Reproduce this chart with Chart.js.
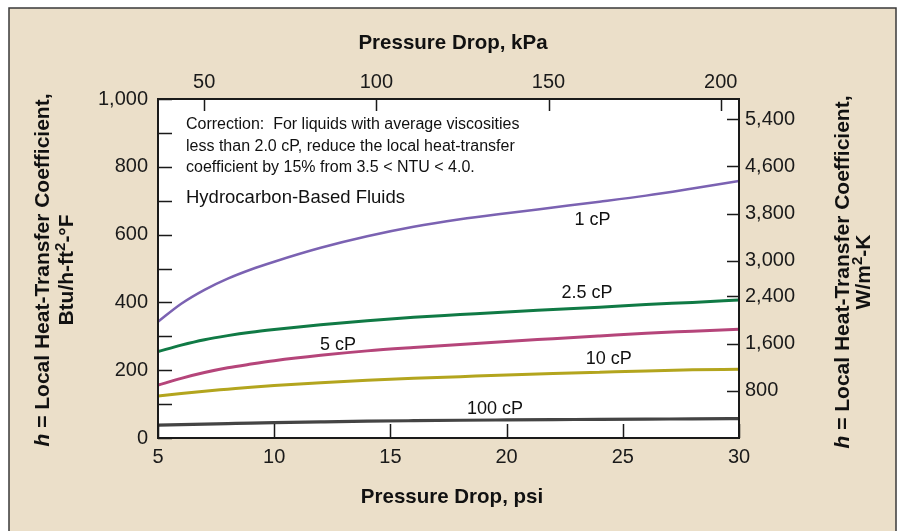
<!DOCTYPE html>
<html>
<head>
<meta charset="utf-8">
<script src="https://cdn.jsdelivr.net/npm/chart.js@4.4.1/dist/chart.umd.min.js"></script>
<style>
html, body { margin: 0; padding: 0; background: #fff; }
</style>
</head>
<body>
<canvas id="myChart" width="899" height="531"></canvas>
<script>
// pressure drop, psi
var psi = [5, 6, 7, 8, 9, 10, 12, 14, 16, 18, 20, 22, 24, 26, 28, 30];
// h, Btu/h-ft2-F
var cp1 = [343, 396, 437, 470, 497, 520, 561, 595, 623, 645, 663, 680, 697, 715, 736, 758];
var cp25 = [255, 274, 290, 302, 312, 320, 334, 346, 356, 364, 372, 379, 386, 394, 400, 407];
var cp5 = [156, 176, 193, 207, 218, 228, 244, 257, 267, 276, 285, 293, 301, 309, 315, 321];
var cp10 = [124, 131, 138, 144, 150, 155, 163, 170, 176, 181, 186, 190, 194, 198, 201, 203];
var cp100 = [38, 39.5, 41, 42.5, 44, 45.3, 47.5, 49.5, 51, 52.3, 53.3, 54.2, 55, 55.7, 56.3, 57];

var bottomTicks = [5, 10, 15, 20, 25, 30];
var topTicks = [50, 100, 150, 200];
var leftTicks = [0, 100, 200, 300, 400, 500, 600, 700, 800, 900, 1000];
var rightTicks = [800, 1600, 2400, 3000, 3800, 4600, 5400];

// curve names and where they are written (psi, Btu)
var curveLabels = [
    ['1 cP', 23.7, 644],
    ['2.5 cP', 23.46, 428],
    ['5 cP', 12.75, 275],
    ['10 cP', 24.4, 233],
    ['100 cP', 19.5, 86]
];

var FONT = '"Liberation Sans", Arial, Helvetica, sans-serif';
Chart.defaults.font.family = FONT;
Chart.defaults.color = '#1a1a1a';

function pts(ys) {
    return psi.map(function (x, i) { return {x: x, y: ys[i]}; });
}

function ds(ys, color, w) {
    return {
        data: pts(ys),
        borderColor: color,
        borderWidth: w,
        pointRadius: 0,
        fill: false,
        cubicInterpolationMode: 'monotone',
        xAxisID: 'x',
        yAxisID: 'y'
    };
}

function setTicks(list) {
    return function (s) {
        s.ticks = list.map(function (v) { return {value: v}; });
    };
}

function drawRich(ctx, parts, cx, cy) {
    // parts: [text, font, raise]
    var total = 0;
    parts.forEach(function (p) { ctx.font = p[1]; total += ctx.measureText(p[0]).width; });
    var x = cx - total / 2;
    parts.forEach(function (p) {
        ctx.font = p[1];
        ctx.fillText(p[0], x, cy - (p[2] || 0));
        x += ctx.measureText(p[0]).width;
    });
}

var framePlugin = {
    id: 'frame',
    beforeDraw: function (chart) {
        var ctx = chart.ctx, a = chart.chartArea;
        ctx.save();
        ctx.fillStyle = '#ffffff';
        ctx.fillRect(0, 0, chart.width, chart.height);
        ctx.fillStyle = '#ebdfc9';
        ctx.fillRect(9, 8, 887, 540);
        ctx.strokeStyle = '#3a3a3a';
        ctx.lineWidth = 1.5;
        ctx.strokeRect(9, 8, 887, 540);
        ctx.fillStyle = '#ffffff';
        ctx.fillRect(a.left, a.top, a.right - a.left, a.bottom - a.top);
        ctx.restore();
    },
    afterDatasetsDraw: function (chart) {
        var ctx = chart.ctx, a = chart.chartArea, sc = chart.scales;
        ctx.save();
        ctx.strokeStyle = '#1a1a1a';
        ctx.lineWidth = 1.5;
        ctx.beginPath();
        leftTicks.forEach(function (v) {
            var y = Math.round(sc.y.getPixelForValue(v)) + 0.5;
            ctx.moveTo(a.left, y); ctx.lineTo(a.left + 14, y);
        });
        rightTicks.forEach(function (v) {
            var y = Math.round(sc.y2.getPixelForValue(v)) + 0.5;
            ctx.moveTo(a.right - 12, y); ctx.lineTo(a.right, y);
        });
        topTicks.forEach(function (v) {
            var x = Math.round(sc.x2.getPixelForValue(v)) + 0.5;
            ctx.moveTo(x, a.top); ctx.lineTo(x, a.top + 12);
        });
        bottomTicks.forEach(function (v) {
            var x = Math.round(sc.x.getPixelForValue(v)) + 0.5;
            ctx.moveTo(x, a.bottom - 14); ctx.lineTo(x, a.bottom);
        });
        ctx.stroke();
        ctx.lineWidth = 2;
        ctx.strokeRect(a.left, a.top, a.right - a.left, a.bottom - a.top);

        // curve labels
        ctx.fillStyle = '#111';
        ctx.textAlign = 'center';
        ctx.textBaseline = 'middle';
        ctx.font = '18px ' + FONT;
        curveLabels.forEach(function (l) {
            ctx.fillText(l[0], sc.x.getPixelForValue(l[1]), sc.y.getPixelForValue(l[2]));
        });

        // notes
        ctx.textAlign = 'left';
        ctx.font = '16px ' + FONT;
        ctx.fillText('Correction:  For liquids with average viscosities', 186, 125);
        ctx.fillText('less than 2.0 cP, reduce the local heat-transfer', 186, 147);
        ctx.fillText('coefficient by 15% from 3.5 < NTU < 4.0.', 186, 168);
        ctx.font = '18.5px ' + FONT;
        ctx.fillText('Hydrocarbon-Based Fluids', 186, 198);
        ctx.restore();
    },
    afterDraw: function (chart) {
        var ctx = chart.ctx;
        var bold = 'bold 21px ' + FONT;
        var boldIt = 'italic bold 21px ' + FONT;
        var sup = 'bold 15px ' + FONT;
        ctx.save();
        ctx.fillStyle = '#111';
        ctx.textAlign = 'left';
        ctx.textBaseline = 'middle';
        drawRich(ctx, [['Pressure Drop, kPa', 'bold 20.5px ' + FONT]], 453, 43);
        drawRich(ctx, [['Pressure Drop, psi', 'bold 20.5px ' + FONT]], 452, 497);

        // left title
        ctx.save();
        ctx.translate(0, 270);
        ctx.rotate(-Math.PI / 2);
        drawRich(ctx, [['h', boldIt], [' = Local Heat-Transfer Coefficient,', bold]], 0, 43);
        drawRich(ctx, [['Btu/h-ft', bold], ['2', sup, 6], ['-°F', bold]], 0, 67);
        ctx.restore();

        // right title
        ctx.save();
        ctx.translate(0, 272);
        ctx.rotate(-Math.PI / 2);
        drawRich(ctx, [['h', boldIt], [' = Local Heat-Transfer Coefficient,', bold]], 0, 843);
        drawRich(ctx, [['W/m', bold], ['2', sup, 6], ['-K', bold]], 0, 864);
        ctx.restore();
        ctx.restore();
    }
};

var ctx = document.getElementById('myChart');
var chart = new Chart(ctx, {
    type: 'line',
    data: {
        datasets: [
            ds(cp1, '#7b62b2', 2.5),
            ds(cp25, '#107a45', 3),
            ds(cp5, '#b5457a', 3),
            ds(cp10, '#b3a51e', 3),
            ds(cp100, '#444444', 3.2)
        ]
    },
    options: {
        responsive: false,
        animation: false,
        events: [],
        layout: { padding: 0 },
        plugins: {
            legend: { display: false },
            tooltip: { enabled: false }
        },
        scales: {
            x: {
                type: 'linear', position: 'bottom', min: 5, max: 30,
                afterBuildTicks: setTicks(bottomTicks),
                afterFit: function (s) { s.height = 93; },
                grid: { display: false, drawTicks: false },
                border: { display: false },
                ticks: { font: { size: 20 }, padding: 7, maxRotation: 0, autoSkip: false }
            },
            x2: {
                type: 'linear', position: 'top', min: 36.6, max: 205.3,
                afterBuildTicks: setTicks(topTicks),
                afterFit: function (s) { s.height = 99; },
                grid: { display: false, drawTicks: false },
                border: { display: false },
                ticks: { font: { size: 20 }, padding: 5, maxRotation: 0, autoSkip: false }
            },
            y: {
                type: 'linear', position: 'left', min: 0, max: 1000,
                afterBuildTicks: setTicks(leftTicks),
                afterFit: function (s) { s.width = 158; },
                grid: { display: false, drawTicks: false },
                border: { display: false },
                ticks: {
                    font: { size: 20 }, padding: 10, autoSkip: false,
                    callback: function (v) { return v % 200 === 0 ? v.toLocaleString('en-US') : ''; }
                }
            },
            y2: {
                type: 'linear', position: 'right', min: 0, max: 5740,
                afterBuildTicks: setTicks(rightTicks),
                afterFit: function (s) { s.width = 160; },
                grid: { display: false, drawTicks: false },
                border: { display: false },
                ticks: {
                    font: { size: 20 }, padding: 6, autoSkip: false,
                    callback: function (v) { return v.toLocaleString('en-US'); }
                }
            }
        }
    },
    plugins: [framePlugin]
});
</script>
</body>
</html>
